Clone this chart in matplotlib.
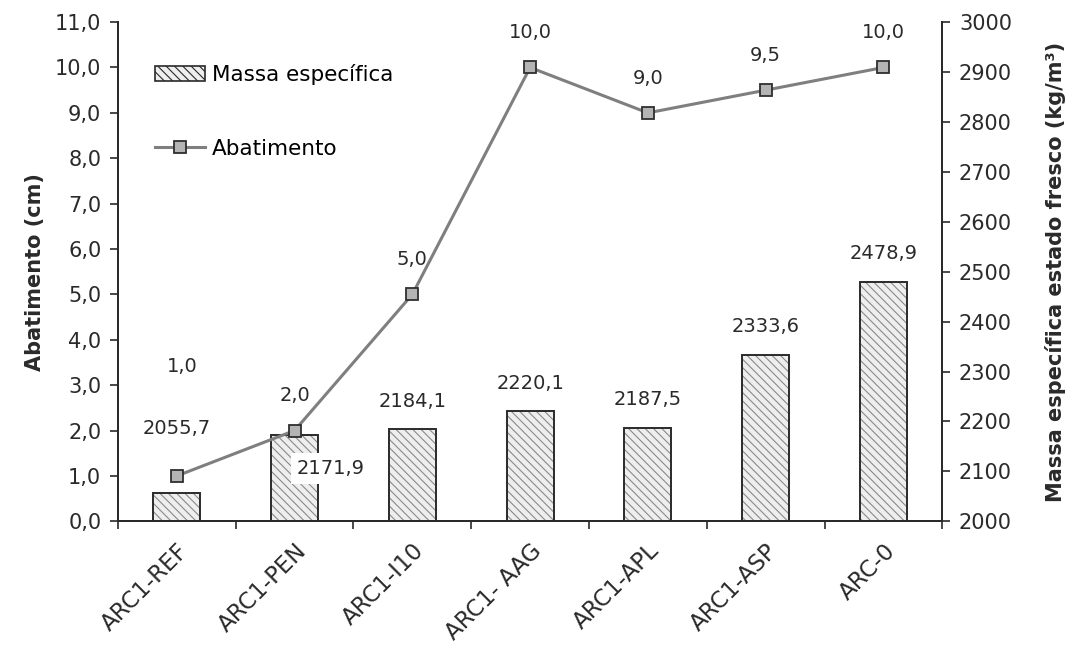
import matplotlib
matplotlib.use("Agg")
import matplotlib.pyplot as plt
import numpy as np
from matplotlib.patches import Patch
from matplotlib.lines import Line2D
from matplotlib.ticker import FuncFormatter, MultipleLocator

plt.rcParams['font.family'] = ['DejaVu Sans']
plt.rcParams['hatch.linewidth'] = 0.8

categories = ["ARC1-REF", "ARC1-PEN", "ARC1-I10", "ARC1- AAG", "ARC1-APL", "ARC1-ASP", "ARC-0"]
massa = [2055.7, 2171.9, 2184.1, 2220.1, 2187.5, 2333.6, 2478.9]
abatimento = [1.0, 2.0, 5.0, 10.0, 9.0, 9.5, 10.0]

# label offsets in points (dx, dy) from the data point
massa_off = [(0, 47), (26, -24), (0, 20), (0, 20), (0, 20), (0, 20), (0, 21)]
abat_off = [(4, 79), (0, 25), (0, 25), (0, 25), (0, 25), (0, 25), (0, 25)]

txt = '#2a2a2a'
fs_tick = 15
fs_xtick = 16.5
fs_lab = 14
fs_title = 15


def virg(v, dec=1):
    return f"{v:.{dec}f}".replace('.', ',')


fig = plt.figure(figsize=(10.72, 6.5), dpi=100)
ax = fig.add_axes([0.110, 0.198, 0.769, 0.768])
ax2 = ax.twinx()

x = np.arange(len(categories))

# bars (right axis)
ax.bar(x, [m - 2000 for m in massa], bottom=2000, width=0.40, color='#eeeeee',
       edgecolor='#8a8a8a', hatch='\\\\\\\\', linewidth=0, zorder=2)
ax.bar(x, [m - 2000 for m in massa], bottom=2000, width=0.40, fill=False,
       edgecolor='#2a2a2a', linewidth=1.4, zorder=3)
ax.set_ylim(2000, 3000)
ax.set_xlim(-0.5, len(categories) - 0.5)
ax.yaxis.tick_right()
ax.yaxis.set_major_locator(MultipleLocator(100))
ax.set_ylabel('Massa específica estado fresco (kg/m³)', fontsize=fs_title, fontweight='bold',
              color=txt)
ax.yaxis.set_label_position('right')
ax.yaxis.set_label_coords(1.124, 0.5)

for i, m in enumerate(massa):
    dx, dy = massa_off[i]
    kw = {}
    if dy < 0:
        kw['bbox'] = dict(boxstyle='square,pad=0.3', fc='white', ec='none')
    ax.annotate(virg(m), (x[i], m), xytext=(dx, dy), textcoords='offset points',
                ha='center', va='center', fontsize=fs_lab, color=txt, zorder=5, **kw)

# line (left axis)
ax2.plot(x, abatimento, color='#7f7f7f', linewidth=2.2, marker='s', markersize=9,
         markerfacecolor='#b4b4b4', markeredgecolor='#2f2f2f', markeredgewidth=1.3, zorder=4)
ax2.set_ylim(0, 11)
ax2.yaxis.tick_left()
ax2.yaxis.set_major_locator(MultipleLocator(1))
ax2.yaxis.set_major_formatter(FuncFormatter(lambda v, p: virg(v)))
ax2.set_ylabel('Abatimento (cm)', fontsize=fs_title, fontweight='bold', color=txt)
ax2.yaxis.set_label_position('left')
ax2.yaxis.set_label_coords(-0.088, 0.5)

for i, a in enumerate(abatimento):
    dx, dy = abat_off[i]
    ax2.annotate(virg(a), (x[i], a), xytext=(dx, dy), textcoords='offset points',
                 ha='center', va='center', fontsize=fs_lab, color=txt, annotation_clip=False)

# x axis: ticks between categories
ax.set_xticks(x)
ax.set_xticks(np.arange(-0.5, len(categories), 1), minor=True)
ax.set_xticklabels(categories, rotation=45, ha='right', rotation_mode='anchor',
                   fontsize=fs_xtick, color=txt)
ax.tick_params(axis='x', which='major', length=0, pad=13)
ax.tick_params(axis='x', which='minor', length=6, width=1.2, direction='out', color='#2a2a2a')

for a in (ax, ax2):
    a.spines['top'].set_visible(False)
    for s in ('left', 'right', 'bottom'):
        a.spines[s].set_color('#2a2a2a')
        a.spines[s].set_linewidth(1.4)
    a.tick_params(axis='y', length=6, width=1.2, direction='out', color='#2a2a2a',
                  labelsize=fs_tick, labelcolor=txt, pad=6)

handles = [
    Patch(facecolor='#eeeeee', edgecolor='#2a2a2a', hatch='\\\\\\\\', linewidth=1.2),
    Line2D([], [], color='#7f7f7f', linewidth=2.2, marker='s', markersize=9,
           markerfacecolor='#b4b4b4', markeredgecolor='#2f2f2f', markeredgewidth=1.3),
]
ax2.legend(handles, ['Massa específica', 'Abatimento'], loc='upper left',
           bbox_to_anchor=(0.045, 0.916), frameon=False, fontsize=15.5,
           labelspacing=2.5, handlelength=2.3, handleheight=0.65, handletextpad=0.35,
           borderpad=0, borderaxespad=0)

fig.savefig('out.png', dpi=100)
